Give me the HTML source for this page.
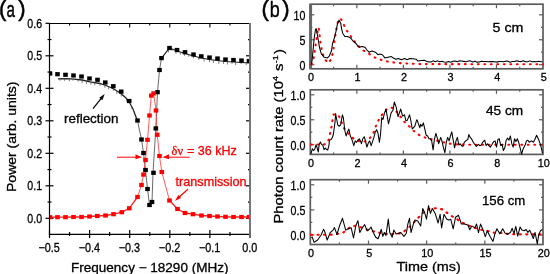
<!DOCTYPE html>
<html><head><meta charset="utf-8"><style>
html,body{margin:0;padding:0;background:#fff;width:550px;height:274px;overflow:hidden}
svg{display:block;will-change:transform}
</style></head><body>
<svg width="550" height="274" viewBox="0 0 550 274">
<rect width="550" height="274" fill="#fff"/>
<line x1="49.5" y1="23.5" x2="250" y2="23.5" stroke="#000" stroke-width="1.1"/>
<line x1="49.5" y1="23" x2="49.5" y2="235" stroke="#000" stroke-width="1.1"/>
<line x1="49.0" y1="234.4" x2="250" y2="234.4" stroke="#000" stroke-width="1.3"/>
<line x1="250" y1="23" x2="250" y2="235" stroke="#777" stroke-width="1.8"/>
<line x1="45.5" y1="218.3" x2="53.5" y2="218.3" stroke="#000" stroke-width="1.2"/>
<line x1="246" y1="218.3" x2="250" y2="218.3" stroke="#000" stroke-width="1.2"/>
<line x1="47.5" y1="202.05" x2="51.5" y2="202.05" stroke="#000" stroke-width="1.2"/>
<line x1="248" y1="202.05" x2="250" y2="202.05" stroke="#000" stroke-width="1.2"/>
<line x1="45.5" y1="185.8" x2="53.5" y2="185.8" stroke="#000" stroke-width="1.2"/>
<line x1="246" y1="185.8" x2="250" y2="185.8" stroke="#000" stroke-width="1.2"/>
<line x1="47.5" y1="169.55" x2="51.5" y2="169.55" stroke="#000" stroke-width="1.2"/>
<line x1="248" y1="169.55" x2="250" y2="169.55" stroke="#000" stroke-width="1.2"/>
<line x1="45.5" y1="153.3" x2="53.5" y2="153.3" stroke="#000" stroke-width="1.2"/>
<line x1="246" y1="153.3" x2="250" y2="153.3" stroke="#000" stroke-width="1.2"/>
<line x1="47.5" y1="137.05" x2="51.5" y2="137.05" stroke="#000" stroke-width="1.2"/>
<line x1="248" y1="137.05" x2="250" y2="137.05" stroke="#000" stroke-width="1.2"/>
<line x1="45.5" y1="120.8" x2="53.5" y2="120.8" stroke="#000" stroke-width="1.2"/>
<line x1="246" y1="120.8" x2="250" y2="120.8" stroke="#000" stroke-width="1.2"/>
<line x1="47.5" y1="104.55" x2="51.5" y2="104.55" stroke="#000" stroke-width="1.2"/>
<line x1="248" y1="104.55" x2="250" y2="104.55" stroke="#000" stroke-width="1.2"/>
<line x1="45.5" y1="88.3" x2="53.5" y2="88.3" stroke="#000" stroke-width="1.2"/>
<line x1="246" y1="88.3" x2="250" y2="88.3" stroke="#000" stroke-width="1.2"/>
<line x1="47.5" y1="72.05" x2="51.5" y2="72.05" stroke="#000" stroke-width="1.2"/>
<line x1="248" y1="72.05" x2="250" y2="72.05" stroke="#000" stroke-width="1.2"/>
<line x1="45.5" y1="55.8" x2="53.5" y2="55.8" stroke="#000" stroke-width="1.2"/>
<line x1="246" y1="55.8" x2="250" y2="55.8" stroke="#000" stroke-width="1.2"/>
<line x1="47.5" y1="39.55" x2="51.5" y2="39.55" stroke="#000" stroke-width="1.2"/>
<line x1="248" y1="39.55" x2="250" y2="39.55" stroke="#000" stroke-width="1.2"/>
<line x1="45.5" y1="23.3" x2="49.5" y2="23.3" stroke="#000" stroke-width="1.2"/>
<line x1="49.5" y1="230" x2="49.5" y2="238" stroke="#000" stroke-width="1.2"/>
<line x1="69.55" y1="232" x2="69.55" y2="236" stroke="#000" stroke-width="1.2"/>
<line x1="69.55" y1="23" x2="69.55" y2="25.5" stroke="#000" stroke-width="1.1"/>
<line x1="89.6" y1="230" x2="89.6" y2="238" stroke="#000" stroke-width="1.2"/>
<line x1="89.6" y1="23" x2="89.6" y2="27.5" stroke="#000" stroke-width="1.1"/>
<line x1="109.65" y1="232" x2="109.65" y2="236" stroke="#000" stroke-width="1.2"/>
<line x1="109.65" y1="23" x2="109.65" y2="25.5" stroke="#000" stroke-width="1.1"/>
<line x1="129.7" y1="230" x2="129.7" y2="238" stroke="#000" stroke-width="1.2"/>
<line x1="129.7" y1="23" x2="129.7" y2="27.5" stroke="#000" stroke-width="1.1"/>
<line x1="149.75" y1="232" x2="149.75" y2="236" stroke="#000" stroke-width="1.2"/>
<line x1="149.75" y1="23" x2="149.75" y2="25.5" stroke="#000" stroke-width="1.1"/>
<line x1="169.8" y1="230" x2="169.8" y2="238" stroke="#000" stroke-width="1.2"/>
<line x1="169.8" y1="23" x2="169.8" y2="27.5" stroke="#000" stroke-width="1.1"/>
<line x1="189.85" y1="232" x2="189.85" y2="236" stroke="#000" stroke-width="1.2"/>
<line x1="189.85" y1="23" x2="189.85" y2="25.5" stroke="#000" stroke-width="1.1"/>
<line x1="209.9" y1="230" x2="209.9" y2="238" stroke="#000" stroke-width="1.2"/>
<line x1="209.9" y1="23" x2="209.9" y2="27.5" stroke="#000" stroke-width="1.1"/>
<line x1="229.95" y1="232" x2="229.95" y2="236" stroke="#000" stroke-width="1.2"/>
<line x1="229.95" y1="23" x2="229.95" y2="25.5" stroke="#000" stroke-width="1.1"/>
<line x1="250" y1="230" x2="250" y2="238" stroke="#000" stroke-width="1.2"/>
<text transform="translate(42.1,222.5) scale(0.83,1)" font-family="Liberation Sans, sans-serif" font-size="12.8" text-anchor="end" fill="#000" stroke="#000" stroke-width="0.3">0.0</text>
<text transform="translate(42.1,190) scale(0.83,1)" font-family="Liberation Sans, sans-serif" font-size="12.8" text-anchor="end" fill="#000" stroke="#000" stroke-width="0.3">0.1</text>
<text transform="translate(42.1,157.5) scale(0.83,1)" font-family="Liberation Sans, sans-serif" font-size="12.8" text-anchor="end" fill="#000" stroke="#000" stroke-width="0.3">0.2</text>
<text transform="translate(42.1,125) scale(0.83,1)" font-family="Liberation Sans, sans-serif" font-size="12.8" text-anchor="end" fill="#000" stroke="#000" stroke-width="0.3">0.3</text>
<text transform="translate(42.1,92.5) scale(0.83,1)" font-family="Liberation Sans, sans-serif" font-size="12.8" text-anchor="end" fill="#000" stroke="#000" stroke-width="0.3">0.4</text>
<text transform="translate(42.1,60) scale(0.83,1)" font-family="Liberation Sans, sans-serif" font-size="12.8" text-anchor="end" fill="#000" stroke="#000" stroke-width="0.3">0.5</text>
<text transform="translate(42.1,27.5) scale(0.83,1)" font-family="Liberation Sans, sans-serif" font-size="12.8" text-anchor="end" fill="#000" stroke="#000" stroke-width="0.3">0.6</text>
<text transform="translate(49.2,251.6) scale(0.88,1)" font-family="Liberation Sans, sans-serif" font-size="12.3" text-anchor="middle" fill="#000" stroke="#000" stroke-width="0.3">−0.5</text>
<text transform="translate(89.3,251.6) scale(0.88,1)" font-family="Liberation Sans, sans-serif" font-size="12.3" text-anchor="middle" fill="#000" stroke="#000" stroke-width="0.3">−0.4</text>
<text transform="translate(129.4,251.6) scale(0.88,1)" font-family="Liberation Sans, sans-serif" font-size="12.3" text-anchor="middle" fill="#000" stroke="#000" stroke-width="0.3">−0.3</text>
<text transform="translate(169.5,251.6) scale(0.88,1)" font-family="Liberation Sans, sans-serif" font-size="12.3" text-anchor="middle" fill="#000" stroke="#000" stroke-width="0.3">−0.2</text>
<text transform="translate(209.6,251.6) scale(0.88,1)" font-family="Liberation Sans, sans-serif" font-size="12.3" text-anchor="middle" fill="#000" stroke="#000" stroke-width="0.3">−0.1</text>
<text transform="translate(249.7,251.6) scale(0.88,1)" font-family="Liberation Sans, sans-serif" font-size="12.3" text-anchor="middle" fill="#000" stroke="#000" stroke-width="0.3">0.0</text>
<defs><clipPath id="ca"><rect x="49.8" y="23" width="199.9" height="211"/></clipPath></defs><g clip-path="url(#ca)">
<polyline points="58,78.8 66,78.6 74,79.2 82,80 90,81.8 100,83.5 106,85.5 113,88.5 121,93.5 126,98 129.2,102 133,109 137.5,121" fill="none" stroke="#222" stroke-width="1.3"/>
<polyline points="137.5,121 141.5,139.5 143.5,153 145.5,170 147.5,189 149.5,205 152,202 153,173 155.8,128.4 157.5,92.2 159.5,70 161.5,58.1" fill="none" stroke="#444" stroke-width="0.8"/>
<polyline points="161.5,58.1 169.5,48 177,51 185,53.5 193.5,56 201.3,58 209.5,59.5 217.5,60.5 225.5,61.5 233.5,62 241.5,62.5 249.5,63" fill="none" stroke="#222" stroke-width="1.2"/>
<path d="M60,78.75v1.9M64.59,78.64v2.13M69.3,78.85v2.56M72.93,79.12v1.52M78.1,79.61v1.94M82.07,80.02v3.19M86.51,81.02v2.92M90.96,81.96v2.59M94.77,82.61v2.58M100,83.5v2.39M104.98,85.16v2.64M108.61,86.62v2.79M113.29,88.68v2.01M116.86,90.91v2.97M121.3,93.77v2.72M126.56,98.7v2.71M131.9,106.98v2.17M163,56.21v2.26M168.37,49.43v2.99M172.07,49.03v1.73M176,50.6v3.14M180.37,52.05v2.57M184.47,53.34v2.36M188.75,54.6v2.1M193.42,55.98v2.49M198.72,57.34v2.66M204.08,58.51v2.96M209.56,59.51v2.64M213.39,59.99v2.96M218.82,60.67v3.04M223.46,61.24v2.71M227.38,61.62v2.91M232.03,61.91v1.98M235.65,62.13v2.95M241.13,62.48v1.65M246.24,62.8v2.2" stroke="#555" stroke-width="0.8" fill="none"/>
<polyline points="50,217.2 57.5,217.2 65.5,217.2 73.5,217 81.5,217 89.5,216.5 97.3,216 105.5,215.5 113.5,214.2 121.8,212.2 129.3,208.3 137.5,197" fill="none" stroke="#f22" stroke-width="1.3"/>
<polyline points="137.5,197 141.5,185 143.5,174.6 145.5,160 147.5,139.8 149.5,115.5 151.3,95.6 153.6,93.4 156,110.5 157.2,134.8 159.5,156 161.8,172 169.5,200.5" fill="none" stroke="#f33" stroke-width="0.8"/>
<polyline points="169.5,200.5 177.5,209 185,213 193,214.2 201.5,215.5 209.5,216 217.5,216.5 225.5,216.8 233.5,217 241.5,217 249,217" fill="none" stroke="#f22" stroke-width="1.3"/>
<rect x="47.7" y="71.4" width="4.6" height="4.2" fill="#000"/>
<rect x="55.2" y="72.1" width="4.6" height="4.2" fill="#000"/>
<rect x="63.2" y="72.7" width="4.6" height="4.2" fill="#000"/>
<rect x="71.2" y="73.4" width="4.6" height="4.2" fill="#000"/>
<rect x="79.2" y="74.4" width="4.6" height="4.2" fill="#000"/>
<rect x="87.2" y="76.4" width="4.6" height="4.2" fill="#000"/>
<rect x="95.2" y="77.7" width="4.6" height="4.2" fill="#000"/>
<rect x="103" y="80.4" width="4.6" height="4.2" fill="#000"/>
<rect x="111" y="84.1" width="4.6" height="4.2" fill="#000"/>
<rect x="118.9" y="89.5" width="4.6" height="4.2" fill="#000"/>
<rect x="126.9" y="98.9" width="4.6" height="4.2" fill="#000"/>
<rect x="135.2" y="118.4" width="4.6" height="4.2" fill="#000"/>
<rect x="139.2" y="137.4" width="4.6" height="4.2" fill="#000"/>
<rect x="141.2" y="150.9" width="4.6" height="4.2" fill="#000"/>
<rect x="143.2" y="167.9" width="4.6" height="4.2" fill="#000"/>
<rect x="145.2" y="186.9" width="4.6" height="4.2" fill="#000"/>
<rect x="147.2" y="202.9" width="4.6" height="4.2" fill="#000"/>
<rect x="149.7" y="199.9" width="4.6" height="4.2" fill="#000"/>
<rect x="151.2" y="170.7" width="4.6" height="4.2" fill="#000"/>
<rect x="153.5" y="126.3" width="4.6" height="4.2" fill="#000"/>
<rect x="155.2" y="90.1" width="4.6" height="4.2" fill="#000"/>
<rect x="157.2" y="67.9" width="4.6" height="4.2" fill="#000"/>
<rect x="159.2" y="56" width="4.6" height="4.2" fill="#000"/>
<rect x="167.2" y="45.9" width="4.6" height="4.2" fill="#000"/>
<rect x="174.7" y="47.9" width="4.6" height="4.2" fill="#000"/>
<rect x="182.7" y="50.1" width="4.6" height="4.2" fill="#000"/>
<rect x="191.2" y="52.4" width="4.6" height="4.2" fill="#000"/>
<rect x="199" y="54.2" width="4.6" height="4.2" fill="#000"/>
<rect x="207.2" y="55.4" width="4.6" height="4.2" fill="#000"/>
<rect x="215.2" y="56.4" width="4.6" height="4.2" fill="#000"/>
<rect x="223.2" y="57.4" width="4.6" height="4.2" fill="#000"/>
<rect x="231.2" y="57.9" width="4.6" height="4.2" fill="#000"/>
<rect x="239.2" y="58.4" width="4.6" height="4.2" fill="#000"/>
<rect x="246.7" y="58.9" width="4.6" height="4.2" fill="#000"/>
<rect x="47.7" y="215.1" width="4.6" height="4.2" fill="#f00"/>
<rect x="55.2" y="215.1" width="4.6" height="4.2" fill="#f00"/>
<rect x="63.2" y="215.1" width="4.6" height="4.2" fill="#f00"/>
<rect x="71.2" y="214.9" width="4.6" height="4.2" fill="#f00"/>
<rect x="79.2" y="214.9" width="4.6" height="4.2" fill="#f00"/>
<rect x="87.2" y="214.4" width="4.6" height="4.2" fill="#f00"/>
<rect x="95" y="213.9" width="4.6" height="4.2" fill="#f00"/>
<rect x="103.2" y="213.4" width="4.6" height="4.2" fill="#f00"/>
<rect x="111.2" y="212.1" width="4.6" height="4.2" fill="#f00"/>
<rect x="119.5" y="210.1" width="4.6" height="4.2" fill="#f00"/>
<rect x="127" y="206.2" width="4.6" height="4.2" fill="#f00"/>
<rect x="135.2" y="194.9" width="4.6" height="4.2" fill="#f00"/>
<rect x="139.2" y="182.9" width="4.6" height="4.2" fill="#f00"/>
<rect x="141.2" y="172.5" width="4.6" height="4.2" fill="#f00"/>
<rect x="143.2" y="157.9" width="4.6" height="4.2" fill="#f00"/>
<rect x="145.2" y="137.7" width="4.6" height="4.2" fill="#f00"/>
<rect x="147.2" y="113.4" width="4.6" height="4.2" fill="#f00"/>
<rect x="149" y="93.5" width="4.6" height="4.2" fill="#f00"/>
<rect x="151.3" y="91.3" width="4.6" height="4.2" fill="#f00"/>
<rect x="153.7" y="108.4" width="4.6" height="4.2" fill="#f00"/>
<rect x="154.9" y="132.7" width="4.6" height="4.2" fill="#f00"/>
<rect x="157.2" y="153.9" width="4.6" height="4.2" fill="#f00"/>
<rect x="159.5" y="169.9" width="4.6" height="4.2" fill="#f00"/>
<rect x="167.2" y="198.4" width="4.6" height="4.2" fill="#f00"/>
<rect x="175.2" y="206.9" width="4.6" height="4.2" fill="#f00"/>
<rect x="182.7" y="210.9" width="4.6" height="4.2" fill="#f00"/>
<rect x="190.7" y="212.1" width="4.6" height="4.2" fill="#f00"/>
<rect x="199.2" y="213.4" width="4.6" height="4.2" fill="#f00"/>
<rect x="207.2" y="213.9" width="4.6" height="4.2" fill="#f00"/>
<rect x="215.2" y="214.4" width="4.6" height="4.2" fill="#f00"/>
<rect x="223.2" y="214.7" width="4.6" height="4.2" fill="#f00"/>
<rect x="231.2" y="214.9" width="4.6" height="4.2" fill="#f00"/>
<rect x="239.2" y="214.9" width="4.6" height="4.2" fill="#f00"/>
<rect x="246.7" y="214.9" width="4.6" height="4.2" fill="#f00"/>
</g>
<line x1="49.5" y1="23" x2="49.5" y2="235" stroke="#000" stroke-width="1.1"/>
<line x1="250" y1="23" x2="250" y2="235" stroke="#777" stroke-width="1.8"/>
<line x1="117" y1="157.2" x2="137" y2="157.2" stroke="#f00" stroke-width="1"/>
<polygon points="142,157.2 135.5,154.3 135.5,159.3" fill="#f00"/>
<line x1="167" y1="157.2" x2="189.6" y2="157.2" stroke="#f00" stroke-width="1"/>
<polygon points="162.5,157.2 169,154.3 169,159.3" fill="#f00"/>
<line x1="93" y1="108.6" x2="101.43" y2="98.15" stroke="#000" stroke-width="1.2"/>
<polygon points="104.7,94.1 102.36,100.18 99.25,97.67" fill="#000"/>
<line x1="187.9" y1="189.2" x2="178.97" y2="197.22" stroke="#f00" stroke-width="1.2"/>
<polygon points="175.1,200.7 178.31,194.99 181.12,198.12" fill="#f00"/>
<text x="64" y="122.6" font-family="Liberation Sans, sans-serif" font-size="12.2" fill="#000" textLength="54.41" lengthAdjust="spacingAndGlyphs" stroke="#000" stroke-width="0.3">reflection</text>
<text x="175.5" y="185.9" font-family="Liberation Sans, sans-serif" font-size="12.2" fill="#f00" textLength="71.07" lengthAdjust="spacingAndGlyphs" stroke="#f00" stroke-width="0.3">transmission</text>
<text x="171.6" y="155.3" font-family="Liberation Serif, serif" font-size="11.8" fill="#f00" textLength="11.4" lengthAdjust="spacingAndGlyphs" stroke="#f00" stroke-width="0.3">δν</text>
<text x="187" y="155" font-family="Liberation Sans, sans-serif" font-size="12.2" fill="#f00" textLength="49.66" lengthAdjust="spacingAndGlyphs" stroke="#f00" stroke-width="0.3">= 36 kHz</text>
<text x="-1" y="16" font-family="Liberation Sans, sans-serif" font-size="22" fill="#000" stroke="#000" stroke-width="0.5">(</text>
<text x="6.6" y="16.9" font-family="Liberation Sans, sans-serif" font-size="21.5" fill="#000" stroke="#000" stroke-width="0.5" textLength="8.4" lengthAdjust="spacingAndGlyphs">a</text>
<text x="18.3" y="16" font-family="Liberation Sans, sans-serif" font-size="22" fill="#000" stroke="#000" stroke-width="0.5">)</text>
<text x="71" y="271.5" font-family="Liberation Sans, sans-serif" font-size="12.5" fill="#000" textLength="157.49" lengthAdjust="spacingAndGlyphs" stroke="#000" stroke-width="0.3">Frequency − 18290 (MHz)</text>
<text transform="translate(16.3,192) rotate(-90) scale(1.096,1)" x="0" y="0" font-family="Liberation Sans, sans-serif" font-size="12.8" fill="#000" stroke="#000" stroke-width="0.3">Power (arb. units)</text>
<rect x="310.3" y="4.2" width="232.7" height="64.6" fill="none" stroke="#5c5c5c" stroke-width="1.7"/>
<line x1="310.6" y1="4.2" x2="310.6" y2="68.8" stroke="#666" stroke-width="3"/>
<line x1="310.3" y1="64.7" x2="314.3" y2="64.7" stroke="#5c5c5c" stroke-width="1.2"/>
<line x1="539" y1="64.7" x2="543" y2="64.7" stroke="#5c5c5c" stroke-width="1.2"/>
<text transform="translate(305.4,69.7) scale(0.86,1)" font-family="Liberation Sans, sans-serif" font-size="12.4" text-anchor="end" fill="#000" stroke="#000" stroke-width="0.3">0</text>
<line x1="310.3" y1="39.75" x2="314.3" y2="39.75" stroke="#5c5c5c" stroke-width="1.2"/>
<line x1="539" y1="39.75" x2="543" y2="39.75" stroke="#5c5c5c" stroke-width="1.2"/>
<text transform="translate(305.4,44.75) scale(0.86,1)" font-family="Liberation Sans, sans-serif" font-size="12.4" text-anchor="end" fill="#000" stroke="#000" stroke-width="0.3">5</text>
<line x1="310.3" y1="14.8" x2="314.3" y2="14.8" stroke="#5c5c5c" stroke-width="1.2"/>
<line x1="539" y1="14.8" x2="543" y2="14.8" stroke="#5c5c5c" stroke-width="1.2"/>
<text transform="translate(305.4,19.8) scale(0.86,1)" font-family="Liberation Sans, sans-serif" font-size="12.4" text-anchor="end" fill="#000" stroke="#000" stroke-width="0.3">10</text>
<line x1="310.3" y1="52.2" x2="312.3" y2="52.2" stroke="#5c5c5c" stroke-width="1.2"/>
<line x1="541" y1="52.2" x2="543" y2="52.2" stroke="#5c5c5c" stroke-width="1.2"/>
<line x1="310.3" y1="27.3" x2="312.3" y2="27.3" stroke="#5c5c5c" stroke-width="1.2"/>
<line x1="541" y1="27.3" x2="543" y2="27.3" stroke="#5c5c5c" stroke-width="1.2"/>
<line x1="333.57" y1="66.8" x2="333.57" y2="68.8" stroke="#5c5c5c" stroke-width="1.2"/>
<line x1="333.57" y1="4.2" x2="333.57" y2="6.2" stroke="#5c5c5c" stroke-width="1.2"/>
<line x1="356.84" y1="64.8" x2="356.84" y2="68.8" stroke="#5c5c5c" stroke-width="1.2"/>
<line x1="356.84" y1="4.2" x2="356.84" y2="8.2" stroke="#5c5c5c" stroke-width="1.2"/>
<line x1="380.11" y1="66.8" x2="380.11" y2="68.8" stroke="#5c5c5c" stroke-width="1.2"/>
<line x1="380.11" y1="4.2" x2="380.11" y2="6.2" stroke="#5c5c5c" stroke-width="1.2"/>
<line x1="403.38" y1="64.8" x2="403.38" y2="68.8" stroke="#5c5c5c" stroke-width="1.2"/>
<line x1="403.38" y1="4.2" x2="403.38" y2="8.2" stroke="#5c5c5c" stroke-width="1.2"/>
<line x1="426.65" y1="66.8" x2="426.65" y2="68.8" stroke="#5c5c5c" stroke-width="1.2"/>
<line x1="426.65" y1="4.2" x2="426.65" y2="6.2" stroke="#5c5c5c" stroke-width="1.2"/>
<line x1="449.92" y1="64.8" x2="449.92" y2="68.8" stroke="#5c5c5c" stroke-width="1.2"/>
<line x1="449.92" y1="4.2" x2="449.92" y2="8.2" stroke="#5c5c5c" stroke-width="1.2"/>
<line x1="473.19" y1="66.8" x2="473.19" y2="68.8" stroke="#5c5c5c" stroke-width="1.2"/>
<line x1="473.19" y1="4.2" x2="473.19" y2="6.2" stroke="#5c5c5c" stroke-width="1.2"/>
<line x1="496.46" y1="64.8" x2="496.46" y2="68.8" stroke="#5c5c5c" stroke-width="1.2"/>
<line x1="496.46" y1="4.2" x2="496.46" y2="8.2" stroke="#5c5c5c" stroke-width="1.2"/>
<line x1="519.73" y1="66.8" x2="519.73" y2="68.8" stroke="#5c5c5c" stroke-width="1.2"/>
<line x1="519.73" y1="4.2" x2="519.73" y2="6.2" stroke="#5c5c5c" stroke-width="1.2"/>
<text transform="translate(311,81.1) scale(0.97,1)" font-family="Liberation Sans, sans-serif" font-size="11.2" text-anchor="middle" fill="#000" stroke="#000" stroke-width="0.3">0</text>
<text transform="translate(357.54,81.1) scale(0.97,1)" font-family="Liberation Sans, sans-serif" font-size="11.2" text-anchor="middle" fill="#000" stroke="#000" stroke-width="0.3">1</text>
<text transform="translate(404.08,81.1) scale(0.97,1)" font-family="Liberation Sans, sans-serif" font-size="11.2" text-anchor="middle" fill="#000" stroke="#000" stroke-width="0.3">2</text>
<text transform="translate(450.62,81.1) scale(0.97,1)" font-family="Liberation Sans, sans-serif" font-size="11.2" text-anchor="middle" fill="#000" stroke="#000" stroke-width="0.3">3</text>
<text transform="translate(497.16,81.1) scale(0.97,1)" font-family="Liberation Sans, sans-serif" font-size="11.2" text-anchor="middle" fill="#000" stroke="#000" stroke-width="0.3">4</text>
<text transform="translate(543.7,81.1) scale(0.97,1)" font-family="Liberation Sans, sans-serif" font-size="11.2" text-anchor="middle" fill="#000" stroke="#000" stroke-width="0.3">5</text>
<rect x="310.3" y="89.8" width="232.7" height="64.6" fill="none" stroke="#5c5c5c" stroke-width="1.7"/>
<line x1="310.3" y1="144.7" x2="314.3" y2="144.7" stroke="#5c5c5c" stroke-width="1.2"/>
<line x1="539" y1="144.7" x2="543" y2="144.7" stroke="#5c5c5c" stroke-width="1.2"/>
<text transform="translate(305.4,149.7) scale(0.86,1)" font-family="Liberation Sans, sans-serif" font-size="12.4" text-anchor="end" fill="#000" stroke="#000" stroke-width="0.3">0.0</text>
<line x1="310.3" y1="119.75" x2="314.3" y2="119.75" stroke="#5c5c5c" stroke-width="1.2"/>
<line x1="539" y1="119.75" x2="543" y2="119.75" stroke="#5c5c5c" stroke-width="1.2"/>
<text transform="translate(305.4,124.75) scale(0.86,1)" font-family="Liberation Sans, sans-serif" font-size="12.4" text-anchor="end" fill="#000" stroke="#000" stroke-width="0.3">0.5</text>
<line x1="310.3" y1="94.8" x2="314.3" y2="94.8" stroke="#5c5c5c" stroke-width="1.2"/>
<line x1="539" y1="94.8" x2="543" y2="94.8" stroke="#5c5c5c" stroke-width="1.2"/>
<text transform="translate(305.4,99.8) scale(0.86,1)" font-family="Liberation Sans, sans-serif" font-size="12.4" text-anchor="end" fill="#000" stroke="#000" stroke-width="0.3">1.0</text>
<line x1="310.3" y1="132.2" x2="312.3" y2="132.2" stroke="#5c5c5c" stroke-width="1.2"/>
<line x1="541" y1="132.2" x2="543" y2="132.2" stroke="#5c5c5c" stroke-width="1.2"/>
<line x1="310.3" y1="107.3" x2="312.3" y2="107.3" stroke="#5c5c5c" stroke-width="1.2"/>
<line x1="541" y1="107.3" x2="543" y2="107.3" stroke="#5c5c5c" stroke-width="1.2"/>
<line x1="333.57" y1="152.4" x2="333.57" y2="154.4" stroke="#5c5c5c" stroke-width="1.2"/>
<line x1="333.57" y1="89.8" x2="333.57" y2="91.8" stroke="#5c5c5c" stroke-width="1.2"/>
<line x1="356.84" y1="150.4" x2="356.84" y2="154.4" stroke="#5c5c5c" stroke-width="1.2"/>
<line x1="356.84" y1="89.8" x2="356.84" y2="93.8" stroke="#5c5c5c" stroke-width="1.2"/>
<line x1="380.11" y1="152.4" x2="380.11" y2="154.4" stroke="#5c5c5c" stroke-width="1.2"/>
<line x1="380.11" y1="89.8" x2="380.11" y2="91.8" stroke="#5c5c5c" stroke-width="1.2"/>
<line x1="403.38" y1="150.4" x2="403.38" y2="154.4" stroke="#5c5c5c" stroke-width="1.2"/>
<line x1="403.38" y1="89.8" x2="403.38" y2="93.8" stroke="#5c5c5c" stroke-width="1.2"/>
<line x1="426.65" y1="152.4" x2="426.65" y2="154.4" stroke="#5c5c5c" stroke-width="1.2"/>
<line x1="426.65" y1="89.8" x2="426.65" y2="91.8" stroke="#5c5c5c" stroke-width="1.2"/>
<line x1="449.92" y1="150.4" x2="449.92" y2="154.4" stroke="#5c5c5c" stroke-width="1.2"/>
<line x1="449.92" y1="89.8" x2="449.92" y2="93.8" stroke="#5c5c5c" stroke-width="1.2"/>
<line x1="473.19" y1="152.4" x2="473.19" y2="154.4" stroke="#5c5c5c" stroke-width="1.2"/>
<line x1="473.19" y1="89.8" x2="473.19" y2="91.8" stroke="#5c5c5c" stroke-width="1.2"/>
<line x1="496.46" y1="150.4" x2="496.46" y2="154.4" stroke="#5c5c5c" stroke-width="1.2"/>
<line x1="496.46" y1="89.8" x2="496.46" y2="93.8" stroke="#5c5c5c" stroke-width="1.2"/>
<line x1="519.73" y1="152.4" x2="519.73" y2="154.4" stroke="#5c5c5c" stroke-width="1.2"/>
<line x1="519.73" y1="89.8" x2="519.73" y2="91.8" stroke="#5c5c5c" stroke-width="1.2"/>
<text transform="translate(311,166.7) scale(0.97,1)" font-family="Liberation Sans, sans-serif" font-size="11.2" text-anchor="middle" fill="#000" stroke="#000" stroke-width="0.3">0</text>
<text transform="translate(357.54,166.7) scale(0.97,1)" font-family="Liberation Sans, sans-serif" font-size="11.2" text-anchor="middle" fill="#000" stroke="#000" stroke-width="0.3">2</text>
<text transform="translate(404.08,166.7) scale(0.97,1)" font-family="Liberation Sans, sans-serif" font-size="11.2" text-anchor="middle" fill="#000" stroke="#000" stroke-width="0.3">4</text>
<text transform="translate(450.62,166.7) scale(0.97,1)" font-family="Liberation Sans, sans-serif" font-size="11.2" text-anchor="middle" fill="#000" stroke="#000" stroke-width="0.3">6</text>
<text transform="translate(497.16,166.7) scale(0.97,1)" font-family="Liberation Sans, sans-serif" font-size="11.2" text-anchor="middle" fill="#000" stroke="#000" stroke-width="0.3">8</text>
<text transform="translate(543.7,166.7) scale(0.97,1)" font-family="Liberation Sans, sans-serif" font-size="11.2" text-anchor="middle" fill="#000" stroke="#000" stroke-width="0.3">10</text>
<rect x="310.3" y="179.7" width="232.7" height="64.8" fill="none" stroke="#5c5c5c" stroke-width="1.7"/>
<line x1="310.3" y1="235" x2="314.3" y2="235" stroke="#5c5c5c" stroke-width="1.2"/>
<line x1="539" y1="235" x2="543" y2="235" stroke="#5c5c5c" stroke-width="1.2"/>
<text transform="translate(305.4,240) scale(0.86,1)" font-family="Liberation Sans, sans-serif" font-size="12.4" text-anchor="end" fill="#000" stroke="#000" stroke-width="0.3">0.0</text>
<line x1="310.3" y1="209.9" x2="314.3" y2="209.9" stroke="#5c5c5c" stroke-width="1.2"/>
<line x1="539" y1="209.9" x2="543" y2="209.9" stroke="#5c5c5c" stroke-width="1.2"/>
<text transform="translate(305.4,214.9) scale(0.86,1)" font-family="Liberation Sans, sans-serif" font-size="12.4" text-anchor="end" fill="#000" stroke="#000" stroke-width="0.3">0.5</text>
<line x1="310.3" y1="184.8" x2="314.3" y2="184.8" stroke="#5c5c5c" stroke-width="1.2"/>
<line x1="539" y1="184.8" x2="543" y2="184.8" stroke="#5c5c5c" stroke-width="1.2"/>
<text transform="translate(305.4,189.8) scale(0.86,1)" font-family="Liberation Sans, sans-serif" font-size="12.4" text-anchor="end" fill="#000" stroke="#000" stroke-width="0.3">1.0</text>
<line x1="310.3" y1="222.4" x2="312.3" y2="222.4" stroke="#5c5c5c" stroke-width="1.2"/>
<line x1="541" y1="222.4" x2="543" y2="222.4" stroke="#5c5c5c" stroke-width="1.2"/>
<line x1="310.3" y1="197.3" x2="312.3" y2="197.3" stroke="#5c5c5c" stroke-width="1.2"/>
<line x1="541" y1="197.3" x2="543" y2="197.3" stroke="#5c5c5c" stroke-width="1.2"/>
<line x1="339.39" y1="242.5" x2="339.39" y2="244.5" stroke="#5c5c5c" stroke-width="1.2"/>
<line x1="339.39" y1="179.7" x2="339.39" y2="181.7" stroke="#5c5c5c" stroke-width="1.2"/>
<line x1="368.48" y1="240.5" x2="368.48" y2="244.5" stroke="#5c5c5c" stroke-width="1.2"/>
<line x1="368.48" y1="179.7" x2="368.48" y2="183.7" stroke="#5c5c5c" stroke-width="1.2"/>
<line x1="397.56" y1="242.5" x2="397.56" y2="244.5" stroke="#5c5c5c" stroke-width="1.2"/>
<line x1="397.56" y1="179.7" x2="397.56" y2="181.7" stroke="#5c5c5c" stroke-width="1.2"/>
<line x1="426.65" y1="240.5" x2="426.65" y2="244.5" stroke="#5c5c5c" stroke-width="1.2"/>
<line x1="426.65" y1="179.7" x2="426.65" y2="183.7" stroke="#5c5c5c" stroke-width="1.2"/>
<line x1="455.74" y1="242.5" x2="455.74" y2="244.5" stroke="#5c5c5c" stroke-width="1.2"/>
<line x1="455.74" y1="179.7" x2="455.74" y2="181.7" stroke="#5c5c5c" stroke-width="1.2"/>
<line x1="484.83" y1="240.5" x2="484.83" y2="244.5" stroke="#5c5c5c" stroke-width="1.2"/>
<line x1="484.83" y1="179.7" x2="484.83" y2="183.7" stroke="#5c5c5c" stroke-width="1.2"/>
<line x1="513.91" y1="242.5" x2="513.91" y2="244.5" stroke="#5c5c5c" stroke-width="1.2"/>
<line x1="513.91" y1="179.7" x2="513.91" y2="181.7" stroke="#5c5c5c" stroke-width="1.2"/>
<text transform="translate(311,256.8) scale(0.97,1)" font-family="Liberation Sans, sans-serif" font-size="11.2" text-anchor="middle" fill="#000" stroke="#000" stroke-width="0.3">0</text>
<text transform="translate(369.18,256.8) scale(0.97,1)" font-family="Liberation Sans, sans-serif" font-size="11.2" text-anchor="middle" fill="#000" stroke="#000" stroke-width="0.3">5</text>
<text transform="translate(427.35,256.8) scale(0.97,1)" font-family="Liberation Sans, sans-serif" font-size="11.2" text-anchor="middle" fill="#000" stroke="#000" stroke-width="0.3">10</text>
<text transform="translate(485.53,256.8) scale(0.97,1)" font-family="Liberation Sans, sans-serif" font-size="11.2" text-anchor="middle" fill="#000" stroke="#000" stroke-width="0.3">15</text>
<text transform="translate(543.7,256.8) scale(0.97,1)" font-family="Liberation Sans, sans-serif" font-size="11.2" text-anchor="middle" fill="#000" stroke="#000" stroke-width="0.3">20</text>
<polyline points="311.5,64.3 313.7,57.9 315.1,48.7 316.6,38.5 317.8,29.3 318.5,27.5 319.2,31 320.2,41 322.3,52.8 325.3,59.9 328.4,63 331.5,58.9 333.5,48.7 334.5,40.5 336,31.3 337.2,24 339,19.5 340.7,18.5 343.7,24.2 345.8,29.3 349,33.6 352.3,38.5 356.9,44.5 362,49.6 368.4,53.4 374.7,57.5 381.1,59.8 387.4,61.5 393.8,62.4 400.2,63.1 407.2,63.5 413.5,63.8 420,64.1 543,64.3" fill="none" stroke="#f00" stroke-width="2.1" stroke-linecap="round" stroke-dasharray="0.8 5.7"/>
<polyline points="311,144.5 317,144.5 324,144.5 327,143 328.8,139.5 330.2,132.6 331.6,126.3 332.5,120 333.6,114.5 336.2,114.2 338.5,115.5 340.5,118.8 341.9,123.2 344.1,128.4 347.5,132.6 351,136 354.5,139.5 357.9,140.9 362.1,142 366.9,140.9 370.4,137.4 373.9,131.9 375.8,126.3 378.3,120.6 380.9,116.7 382.8,113.5 385.3,111 387.3,108.6 390.5,107.5 393,108 396.2,111 398.1,114.8 401.3,117.4 403.9,121.5 407.1,124 410.9,128.2 414.1,131.2 417.3,134 421.7,136.2 427.3,138.4 432.9,139.5 437.3,140.7 442.9,142.2 447,143.2 453.2,144.1 460.2,144.6 467,144.7 543,144.8" fill="none" stroke="#f00" stroke-width="2.1" stroke-linecap="round" stroke-dasharray="0.8 5.7"/>
<polyline points="311,234.8 317.4,234.8 323.7,234.8 330,234.8 337,234 343.3,232.5 349.6,227.5 355.9,225.6 362.4,227.8 368.6,230.1 374.9,231.7 382,233.3 388.3,234 394.5,234 400.8,233.3 407.1,229.3 413.4,223 418.8,217.2 424.6,211.4 430.4,208.5 436.2,208.3 443,209.5 448.8,214.3 455.6,218.2 461.4,222.1 467.2,225 474.7,227.9 481.4,229.8 487.2,230.8 494,232.7 500.8,233 506.6,233.7 513.4,234.3 543,234.4" fill="none" stroke="#f00" stroke-width="2.1" stroke-linecap="round" stroke-dasharray="1.2 5.3"/>
<polyline points="311.2,64.5 312,61 313.1,50 314.2,38 315.5,29.5 316.2,28.7 317.6,36 319.4,47 321.3,53.8 324.3,57.3 327.4,57.9 329.4,55.8 331.5,50.7 332.5,43.6 334.5,37.5 336.2,30.3 337.6,23.2 339,20.1 340.7,23.2 341.7,29.3 342.8,33.5 344.9,36.5 347.4,36.5 350.7,38.1 353,41 356.3,43.9 358,46.5 360,47.1 362.5,46.5 365.2,47.5 367,50 369,52.2 372,51 375.4,52.2 377.9,54.7 380,54 382.4,54.7 384.9,57.9 388,57.2 391.3,56.6 393.5,58 395.7,59.2 398.3,58.5 401.4,59.8 404.6,58.5 407.2,59.8 409.7,58.5 413,58.8 416.1,59.2 418,61.1 421.2,60.4 424.3,60.2 426.5,61.21 428.7,61.88 430.9,62.02 433.1,60.86 435.3,61.66 437.5,60.86 439.7,61.81 441.9,61.26 444.1,62.03 446.3,62.17 448.5,61.51 450.7,62.2 452.9,61.23 455.1,60.91 457.3,61.64 459.5,60.84 461.7,61.08 463.9,61.37 466.1,61.65 468.3,61.02 470.5,60.86 472.7,62.01 474.9,61.24 477.1,62.14 479.3,62.06 481.5,61.33 483.7,61.44 485.9,61.53 488.1,61.7 490.3,61.63 492.5,61.58 494.7,61.67 496.9,62.12 499.1,61.51 501.3,61.4 503.5,61.81 505.7,61.13 507.9,61.22 510.1,62.17 512.3,61.53 514.5,61.57 516.7,60.82 518.9,61.38 521.1,61.61 523.3,60.83 525.5,61.66 527.7,61.69 529.9,60.88 532.1,61.68 534.3,61.45 536.5,61.75 538.7,61.29 540.9,61.79 542.3,61.83" fill="none" stroke="#000" stroke-width="1.05" stroke-linejoin="round"/>
<polyline points="310.8,154 312.4,148.8 313.6,150.5 314.8,149.2 316,144.8 317.2,148 318.3,152 319.2,144.4 320.4,142 321.6,144.4 322.8,145.2 324,149.6 325.3,148 326.5,149.6 327.7,150 328.9,145.6 329.5,140.4 331.3,139.2 332.1,138 333.3,134.8 335,122.2 335.6,113.6 336.4,118 337.8,124.9 339.2,126.3 340.6,124.9 342.4,114.9 343.4,118 344.8,130.5 346.1,136 347.5,131.9 348.9,129.1 350.3,136 351.7,138.8 353.8,145.7 355.2,140.9 356.5,142.3 357.9,140.2 359.3,138.8 360.7,141.6 361.4,143.7 362.8,138.8 364.2,136.7 365.5,140.9 366.9,147.1 368.3,143 369.7,140.9 371.1,145.7 372.5,141.6 373.9,137.4 375.3,131.9 376.6,129.8 378,133.3 379.4,142.3 380.5,134.6 381.7,117.5 383,119.5 384.3,113.6 386,109 388.5,123.8 391.1,112.9 393,110.3 394.3,102 396.2,107.1 398.1,116.7 400.7,109 402.6,116.1 404.5,114.8 405.9,120.8 407.1,120.6 409.6,114.8 410.9,121 412.2,128.9 414.8,126.3 416.7,119.9 417.2,120.1 418.5,124.2 419.9,127.7 420.6,124.2 422,126.3 423.4,122.9 424.8,129.1 426.2,135.3 427.6,136 429,138.8 430.3,138.8 431.7,140.9 433.1,149.9 434.5,138.8 435.9,133.3 437.3,138.1 438.7,143.7 440.7,137.4 442.1,141.6 443.5,147.8 444.9,152.7 446.3,142.3 447.7,137.4 449.1,140.9 450.4,136 451.8,131.9 453.2,140.2 454.6,147.8 456,140.9 457.4,137.4 458.8,145 460.2,143.7 461.5,145.7 462.9,146.4 464.3,142.3 465.7,140.9 467.8,139.5 468.8,134.6 470.2,137.4 471.5,138.8 472.9,141.6 474.3,143.7 476.4,146.4 478.5,144.4 479.9,145.7 481.3,145 482.6,142.3 484.7,140.2 486.1,145.7 487.5,143.7 488.9,145.7 490.3,147.1 491.7,145 493.7,141.6 495.1,140.9 496.5,147.1 497.9,139.5 499.3,138.8 500.7,145.7 502.1,144.4 503.4,150.6 504.8,147.8 506.2,140.2 507.6,138.1 509,140.2 510.4,136 511.8,143.7 513.2,147.1 514.5,138.8 515.9,141.6 517.3,138.8 518.7,142.3 520.1,147.8 521.6,154.1 523,149.2 525.1,145 526.5,140.9 527.9,140.2 529.3,142.3 531.4,140.9 533.4,142.3 534.8,139.5 536.6,135.3 538.3,138.8 540.4,144.4 541.8,149.9 542.5,153.4" fill="none" stroke="#000" stroke-width="1.05" stroke-linejoin="round"/>
<polyline points="311.5,238 312.2,237 314,242.2 317.4,240.3 321,235.2 323.5,229.4 324.5,230.9 327.2,240 330.4,232.3 333.1,230.1 334.5,227.6 337,234.5 339.4,226.2 342.5,218.3 345.7,230.1 348.8,228.5 351.2,227.8 353.5,238 355.9,225.4 357.9,220.7 359.8,232.5 362.4,227.8 364.7,224.6 367.1,230.9 369.4,229.3 371,227 373.3,232.5 375.7,237.2 378.1,238.8 379.6,234.8 381.2,229.3 382.8,236.4 384.3,232.5 385.9,235.6 388.3,219.1 389.8,232.5 392.2,237.2 393.8,230.1 396.1,234 398.5,233.3 400.8,232.5 404,236.4 406.3,233.3 407.9,223.8 409.5,218.3 411,232.5 413.4,223.8 414.9,220.1 417.8,221.1 420.7,226 422.7,208.5 424.6,212.4 426.5,219.2 428.5,205.6 430.4,213.4 432.3,208.5 435.2,213.4 438.1,223 440.1,214.3 441.6,227.9 444,214.3 446.8,219.2 448.8,220.1 450.7,219.2 453.2,228.8 455.6,217.2 458.5,215.3 461.4,224 464.3,224 467.9,225 469.8,229.8 471.8,225.9 474.7,227.9 476.6,224 478.5,232.7 480.5,224 483.4,230.8 485.3,236.6 487.2,230.8 490.1,236.6 493,241.4 495,233.7 496.9,228.8 499.8,233.7 502.7,228.8 505,233.1 507.4,234.3 510.4,232.5 512.2,228.3 514,233.7 515.8,226.4 517.7,236.1 520.1,227 521.9,230.1 524.3,230.7 526.1,229.5 527.9,232.5 529.7,230.1 531.5,234.3 533.3,238.5 535.1,232.5 537.3,243.9 538.7,234.9 540.5,230.7 542.3,229.5" fill="none" stroke="#000" stroke-width="1.05" stroke-linejoin="round"/>
<text x="492.5" y="32.3" font-family="Liberation Sans, sans-serif" font-size="12.6" fill="#000" textLength="30.88" lengthAdjust="spacingAndGlyphs" stroke="#000" stroke-width="0.3">5 cm</text>
<text x="486" y="115" font-family="Liberation Sans, sans-serif" font-size="12.6" fill="#000" textLength="37.22" lengthAdjust="spacingAndGlyphs" stroke="#000" stroke-width="0.3">45 cm</text>
<text x="482" y="204.5" font-family="Liberation Sans, sans-serif" font-size="12.6" fill="#000" textLength="43.39" lengthAdjust="spacingAndGlyphs" stroke="#000" stroke-width="0.3">156 cm</text>
<text x="261.5" y="16" font-family="Liberation Sans, sans-serif" font-size="22" fill="#000" stroke="#000" stroke-width="0.5">(</text>
<text x="269.8" y="16.5" font-family="Liberation Sans, sans-serif" font-size="22.5" fill="#000" stroke="#000" stroke-width="0.4" textLength="10" lengthAdjust="spacingAndGlyphs">b</text>
<text x="282.3" y="16" font-family="Liberation Sans, sans-serif" font-size="22" fill="#000" stroke="#000" stroke-width="0.5">)</text>
<text x="396.5" y="270.9" font-family="Liberation Sans, sans-serif" font-size="13" fill="#000" textLength="64.33" lengthAdjust="spacingAndGlyphs" stroke="#000" stroke-width="0.3">Time (ms)</text>
<text transform="translate(283.1,223.6) rotate(-90) scale(1.124,1)" x="0" y="0" font-family="Liberation Sans, sans-serif" font-size="13.2" fill="#000" stroke="#000" stroke-width="0.3">Photon count rate (10<tspan font-size="8" dy="-5.5">4</tspan><tspan dy="5.5" dx="0.8"> s</tspan><tspan font-size="8" dy="-5.5" dx="0.3">-1</tspan><tspan dy="5.5" dx="1.2">)</tspan></text>
</svg></body></html>
